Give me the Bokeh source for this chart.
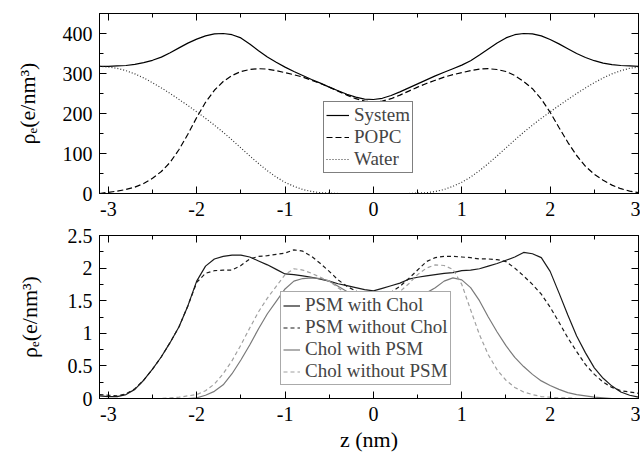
from bokeh.plotting import figure
from bokeh.models import Range1d, SingleIntervalTicker, LinearAxis, CustomJSTickFormatter, Legend, LegendItem
from bokeh.layouts import column
from bokeh.embed import file_html
from bokeh.resources import INLINE

# ---------------- data ----------------
Z = [-3.1, -3.0, -2.9, -2.8, -2.7, -2.6, -2.5, -2.4, -2.3, -2.2, -2.1, -2.0, -1.9, -1.8, -1.7, -1.6,
     -1.5, -1.4, -1.3, -1.2, -1.1, -1.0, -0.9, -0.8, -0.7, -0.6, -0.5, -0.4, -0.3, -0.2, -0.1, 0.0,
     0.1, 0.2, 0.3, 0.4, 0.5, 0.6, 0.7, 0.8, 0.9, 1.0, 1.1, 1.2, 1.3, 1.4, 1.5, 1.6, 1.7, 1.8, 1.9,
     2.0, 2.1, 2.2, 2.3, 2.4, 2.5, 2.6, 2.7, 2.8, 2.9, 3.0]

SYSTEM = [318, 318, 319, 320, 323, 327, 333, 341, 352, 364, 376, 386, 394, 399, 400, 397,
          389, 374, 357, 341, 328, 316, 305, 295, 285, 276, 266, 257, 248, 241, 236, 235,
          238, 245, 254, 264, 274, 284, 294, 303, 312, 321, 332, 346, 361, 376, 389, 397, 400, 399, 394,
          385, 374, 362, 350, 340, 332, 326, 322, 320, 319, 318]
POPC = [0, 3, 6, 10, 16, 25, 38, 55, 78, 110, 148, 190, 228, 258, 280, 295,
        305, 310, 312, 311, 307, 302, 297, 291, 283, 275, 266, 256, 246, 237, 231, 229,
        231, 237, 246, 256, 266, 275, 283, 291, 297, 302, 307, 311, 312, 310, 305, 295, 280, 262, 236,
        203, 165, 128, 95, 68, 48, 33, 21, 12, 6, 2]
WATER = [318, 316, 313, 307, 299, 289, 277, 264, 250, 235, 220, 204, 188, 171, 153, 134,
         114, 94, 75, 57, 41, 28, 18, 10, 5, 2, 1, 0, 0, 0, 0, 0,
         0, 0, 0, 0, 1, 2, 5, 10, 18, 28, 41, 57, 75, 94, 114, 134, 153, 171, 188,
         204, 220, 235, 250, 264, 277, 289, 299, 307, 313, 316]

PSM_CHOL = [0.04, 0.03, 0.03, 0.06, 0.14, 0.28, 0.45, 0.64, 0.86, 1.10, 1.42, 1.80, 2.03, 2.14, 2.18, 2.20,
            2.20, 2.17, 2.11, 2.05, 1.98, 1.91, 1.90, 1.88, 1.86, 1.83, 1.80, 1.76, 1.73, 1.70, 1.67, 1.65,
            1.69, 1.73, 1.77, 1.83, 1.86, 1.88, 1.90, 1.92, 1.93, 1.96, 1.97, 1.99, 2.03, 2.07, 2.12, 2.17,
            2.24, 2.22, 2.16, 1.95, 1.62, 1.28, 0.96, 0.70, 0.47, 0.31, 0.19, 0.10, 0.05, 0.02]
PSM_NOCHOL = [0.06, 0.05, 0.04, 0.07, 0.15, 0.28, 0.45, 0.64, 0.86, 1.10, 1.42, 1.78, 1.92, 1.96, 1.97, 1.97,
              2.04, 2.14, 2.18, 2.19, 2.21, 2.23, 2.28, 2.26, 2.18, 2.07, 1.95, 1.82, 1.72, 1.65, 1.59, 1.56,
              1.59, 1.63, 1.72, 1.84, 1.97, 2.10, 2.16, 2.18, 2.18, 2.17, 2.16, 2.14, 2.14, 2.13, 2.10, 2.00,
              1.88, 1.75, 1.60, 1.40, 1.17, 0.93, 0.72, 0.52, 0.37, 0.25, 0.17, 0.12, 0.10, 0.08]
CHOL_PSM = [0, 0, 0, 0, 0, 0, 0, 0, 0, 0, 0, 0.01, 0.05, 0.11, 0.21, 0.38,
            0.59, 0.82, 1.07, 1.30, 1.49, 1.68, 1.80, 1.84, 1.85, 1.84, 1.80, 1.72, 1.64, 1.56, 1.49, 1.46,
            1.46, 1.48, 1.50, 1.54, 1.58, 1.62, 1.70, 1.80, 1.85, 1.82, 1.70, 1.50, 1.25, 1.02, 0.81, 0.63,
            0.49, 0.37, 0.27, 0.20, 0.14, 0.09, 0.06, 0.04, 0.02, 0.01, 0, 0, 0, 0]
CHOL_NOPSM = [0, 0, 0, 0, 0, 0, 0, 0, 0.01, 0.02, 0.04, 0.06, 0.12, 0.22, 0.38, 0.58,
              0.82, 1.08, 1.33, 1.54, 1.72, 1.90, 1.99, 1.97, 1.92, 1.86, 1.80, 1.70, 1.60, 1.52, 1.48, 1.48,
              1.50, 1.56, 1.64, 1.76, 1.90, 2.00, 2.05, 2.04, 1.98, 1.75, 1.36, 0.98, 0.67, 0.44, 0.28, 0.17,
              0.10, 0.06, 0.03, 0.02, 0.01, 0.01, 0, 0, 0, 0, 0, 0, 0, 0]

TOP_LABELS = ["System", "POPC", "Water"]
BOTTOM_LABELS = ["PSM with Chol", "PSM without Chol", "Chol with PSM", "Chol without PSM"]

FONT = "Liberation Serif, DejaVu Serif, serif"
YLABEL = "ρₑ(e/nm³)"


def make_fig(height, yr, yint, mb_top, mb_bottom, xlabel=None, ylab_standoff=20):
    p = figure(width=640, height=height, x_range=Range1d(-3.1, 3.0), y_range=Range1d(*yr),
               output_backend="svg", toolbar_location=None,
               min_border_left=99, min_border_right=2, min_border_top=mb_top, min_border_bottom=mb_bottom,
               x_axis_type=None, y_axis_type=None)
    p.xgrid.visible = False
    p.ygrid.visible = False
    p.outline_line_color = "black"
    p.background_fill_color = "white"
    p.border_fill_color = "white"
    fmt = CustomJSTickFormatter(code="return tick.toString();")
    blank = CustomJSTickFormatter(code="return '';")
    for loc, interval, show in [("below", 1, True), ("above", 1, False), ("left", yint, True), ("right", yint, False)]:
        ax = LinearAxis(ticker=SingleIntervalTicker(interval=interval, num_minor_ticks=2),
                        formatter=fmt if show else blank)
        ax.major_tick_in = 7
        ax.major_tick_out = 0
        ax.minor_tick_in = 4
        ax.minor_tick_out = 0
        ax.axis_line_color = "black"
        ax.major_tick_line_color = "black"
        ax.minor_tick_line_color = "black"
        if show:
            ax.major_label_text_font = FONT
            ax.major_label_text_font_size = "20px"
            ax.major_label_text_color = "black"
            ax.major_label_standoff = 8 if loc == "below" else 7
            ax.axis_label_text_font = FONT
            ax.axis_label_text_font_style = "normal"
            ax.axis_label_text_color = "black"
            ax.axis_label_text_font_size = "22px"
            if loc == "left":
                ax.axis_label = YLABEL
                ax.axis_label_standoff = ylab_standoff
            elif xlabel:
                ax.axis_label = xlabel
                ax.axis_label_standoff = 3
        else:
            ax.major_label_text_font_size = "1px"
            ax.major_label_standoff = 0
        p.add_layout(ax, loc)
    return p


# ---------------- top panel ----------------
p1 = make_fig(225, (0, 450), 100, 13, 32, ylab_standoff=20)
r_sys = p1.line(Z, SYSTEM, line_color="black", line_width=1.2)
r_popc = p1.line(Z, POPC, line_color="black", line_width=1.2, line_dash="6 3")
r_wat = p1.line(Z, WATER, line_color="#333333", line_width=1.2, line_dash="1 2")
leg1 = Legend(items=[LegendItem(label=TOP_LABELS[0], renderers=[r_sys]),
                     LegendItem(label=TOP_LABELS[1], renderers=[r_popc]),
                     LegendItem(label=TOP_LABELS[2], renderers=[r_wat])],
              location=(224, 20), label_text_font=FONT, label_text_font_size="19px",
              glyph_width=23, glyph_height=16, label_height=16, spacing=-2, padding=2, margin=0,
              label_standoff=5, border_line_color="black", border_line_width=1,
              background_fill_color="white", background_fill_alpha=1.0)
p1.add_layout(leg1)

# ---------------- bottom panel ----------------
p2 = make_fig(230, (0, 2.5), 0.5, 10, 57, xlabel="z (nm)", ylab_standoff=23)
r1 = p2.line(Z, PSM_CHOL, line_color="#1a1a1a", line_width=1.2)
r2 = p2.line(Z, PSM_NOCHOL, line_color="#1a1a1a", line_width=1.2, line_dash="4 3")
r3 = p2.line(Z, CHOL_PSM, line_color="#7a7a7a", line_width=1.2)
r4 = p2.line(Z, CHOL_NOPSM, line_color="#a0a0a0", line_width=1.2, line_dash="4 3")
leg2 = Legend(items=[LegendItem(label=BOTTOM_LABELS[i], renderers=[r]) for i, r in enumerate([r1, r2, r3, r4])],
              location=(181, 13), label_text_font=FONT, label_text_font_size="19px",
              glyph_width=17, glyph_height=15, label_height=15, spacing=-3, padding=2, margin=0,
              label_standoff=5, border_line_color="#555555", border_line_width=1,
              background_fill_color="white", background_fill_alpha=1.0)
p2.add_layout(leg2)

layout = column(p1, p2, spacing=0)
open("out.html", "w").write(file_html(layout, INLINE))
